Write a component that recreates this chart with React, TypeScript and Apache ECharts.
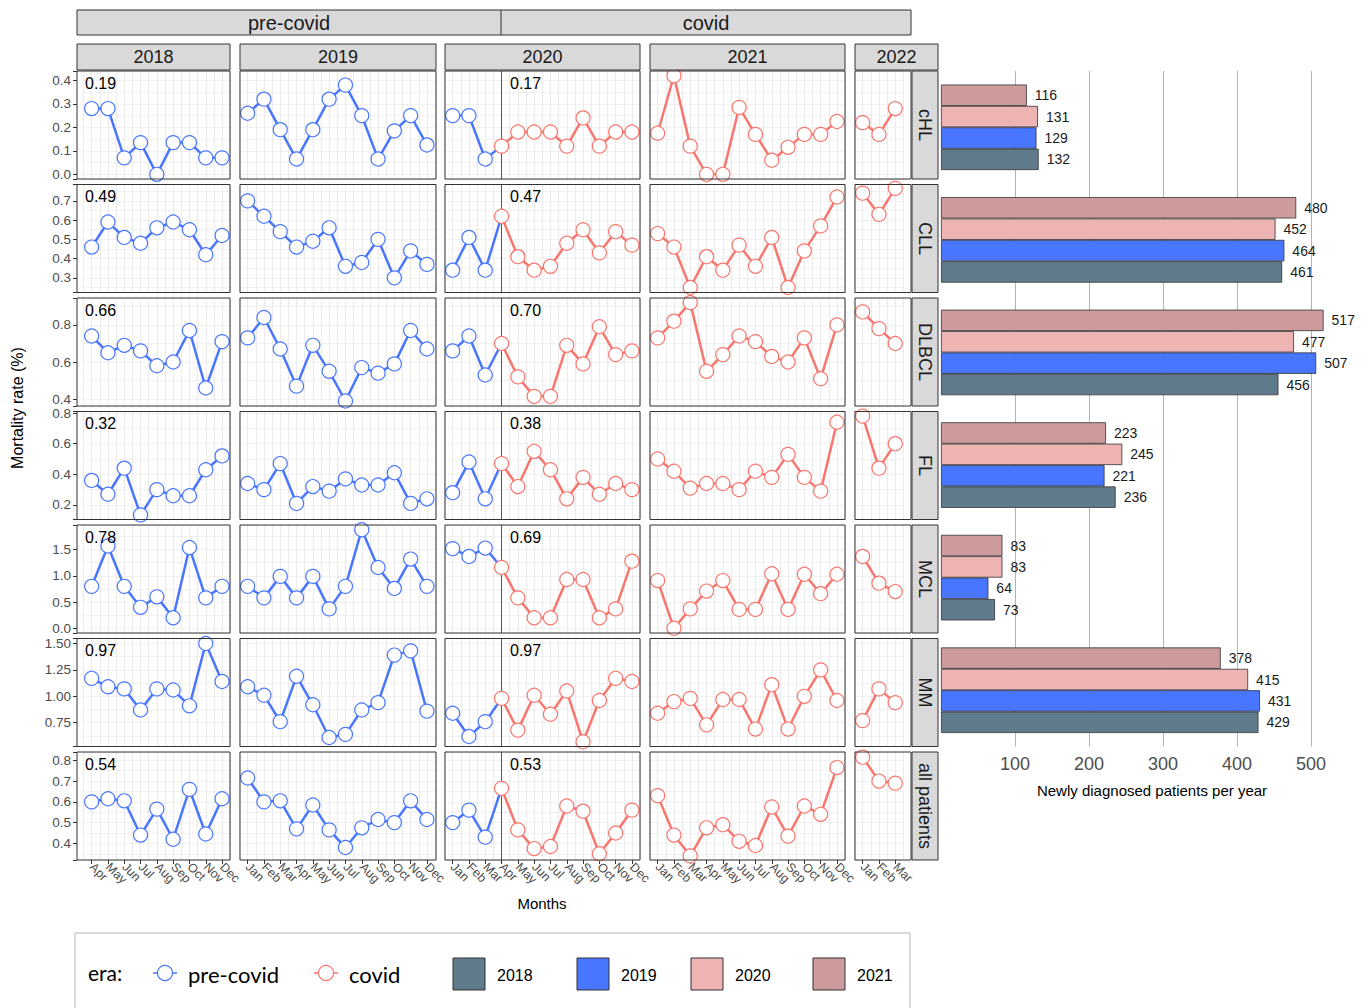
import React, { useEffect, useRef } from 'react';
import * as echarts from 'echarts';

// ---------- categories / tick labels ----------
const monthsFull = ['Jan', 'Feb', 'Mar', 'Apr', 'May', 'Jun', 'Jul', 'Aug', 'Sep', 'Oct', 'Nov', 'Dec'];
const months2018 = ['Apr', 'May', 'Jun', 'Jul', 'Aug', 'Sep', 'Oct', 'Nov', 'Dec'];
const months2022 = ['Jan', 'Feb', 'Mar'];
const yearLabels = ['2018', '2019', '2020', '2021', '2022'];
const diseases = ['cHL', 'CLL', 'DLBCL', 'FL', 'MCL', 'MM', 'all patients'];
const eraLabels = ['pre-covid', 'covid'];

// ---------- mortality rate (%) per month ----------
const cHL2018 = [0.28, 0.28, 0.07, 0.135, 0.0, 0.135, 0.135, 0.07, 0.07];
const cHL2019 = [0.26, 0.32, 0.19, 0.065, 0.19, 0.32, 0.38, 0.25, 0.065, 0.185, 0.25, 0.125];
const cHL2020 = [0.25, 0.25, 0.065, 0.12, 0.18, 0.18, 0.18, 0.12, 0.24, 0.12, 0.18, 0.18];
const cHL2021 = [0.175, 0.42, 0.12, 0.0, 0.0, 0.285, 0.17, 0.06, 0.115, 0.17, 0.17, 0.225];
const cHL2022 = [0.22, 0.17, 0.28];

const CLL2018 = [0.46, 0.59, 0.51, 0.48, 0.56, 0.59, 0.55, 0.42, 0.52];
const CLL2019 = [0.70, 0.62, 0.54, 0.46, 0.49, 0.56, 0.36, 0.38, 0.50, 0.30, 0.44, 0.37];
const CLL2020 = [0.34, 0.51, 0.34, 0.62, 0.41, 0.34, 0.36, 0.48, 0.55, 0.43, 0.54, 0.47];
const CLL2021 = [0.53, 0.46, 0.25, 0.41, 0.34, 0.47, 0.36, 0.51, 0.25, 0.44, 0.57, 0.72];
const CLL2022 = [0.74, 0.63, 0.765];

const DLBCL2018 = [0.74, 0.65, 0.69, 0.66, 0.58, 0.60, 0.77, 0.46, 0.71];
const DLBCL2019 = [0.73, 0.84, 0.67, 0.47, 0.69, 0.55, 0.39, 0.57, 0.54, 0.59, 0.77, 0.67];
const DLBCL2020 = [0.66, 0.74, 0.53, 0.70, 0.52, 0.415, 0.415, 0.69, 0.59, 0.79, 0.64, 0.66];
const DLBCL2021 = [0.73, 0.82, 0.92, 0.55, 0.64, 0.74, 0.71, 0.63, 0.60, 0.73, 0.51, 0.80];
const DLBCL2022 = [0.87, 0.78, 0.70];

const FL2018 = [0.36, 0.27, 0.44, 0.135, 0.30, 0.26, 0.26, 0.43, 0.52];
const FL2019 = [0.34, 0.30, 0.47, 0.21, 0.32, 0.29, 0.37, 0.33, 0.33, 0.41, 0.21, 0.24];
const FL2020 = [0.28, 0.48, 0.24, 0.47, 0.32, 0.55, 0.43, 0.24, 0.38, 0.27, 0.34, 0.30];
const FL2021 = [0.50, 0.42, 0.31, 0.34, 0.34, 0.30, 0.42, 0.38, 0.53, 0.38, 0.29, 0.74];
const FL2022 = [0.78, 0.44, 0.60];

const MCL2018 = [0.80, 1.57, 0.80, 0.40, 0.60, 0.20, 1.54, 0.58, 0.80];
const MCL2019 = [0.80, 0.58, 0.99, 0.58, 0.99, 0.37, 0.80, 1.88, 1.16, 0.76, 1.32, 0.80];
const MCL2020 = [1.52, 1.37, 1.53, 1.16, 0.58, 0.20, 0.20, 0.93, 0.93, 0.20, 0.37, 1.28];
const MCL2021 = [0.91, 0.0, 0.37, 0.71, 0.91, 0.36, 0.36, 1.04, 0.36, 1.03, 0.66, 1.03];
const MCL2022 = [1.37, 0.86, 0.70];

const MM2018 = [1.17, 1.09, 1.07, 0.87, 1.07, 1.06, 0.91, 1.50, 1.14];
const MM2019 = [1.09, 1.01, 0.76, 1.19, 0.92, 0.61, 0.64, 0.87, 0.94, 1.39, 1.43, 0.86];
const MM2020 = [0.84, 0.62, 0.76, 0.98, 0.68, 1.01, 0.83, 1.05, 0.57, 0.96, 1.17, 1.14];
const MM2021 = [0.84, 0.95, 0.98, 0.73, 0.97, 0.97, 0.69, 1.11, 0.69, 1.00, 1.25, 0.96];
const MM2022 = [0.77, 1.07, 0.94];

const ALL2018 = [0.60, 0.615, 0.605, 0.44, 0.565, 0.42, 0.66, 0.445, 0.615];
const ALL2019 = [0.715, 0.60, 0.605, 0.47, 0.585, 0.465, 0.38, 0.475, 0.515, 0.50, 0.605, 0.515];
const ALL2020 = [0.50, 0.56, 0.43, 0.665, 0.465, 0.375, 0.385, 0.58, 0.555, 0.35, 0.45, 0.56];
const ALL2021 = [0.63, 0.44, 0.34, 0.475, 0.49, 0.41, 0.39, 0.575, 0.435, 0.58, 0.54, 0.765];
const ALL2022 = [0.815, 0.70, 0.69];

// mean mortality per era (annotations)
const meansPreCovid = ['0.19', '0.49', '0.66', '0.32', '0.78', '0.97', '0.54'];
const meansCovid = ['0.17', '0.47', '0.70', '0.38', '0.69', '0.97', '0.53'];

// y scale per row (free y scales)
const yMin = [-0.02, 0.224, 0.363, 0.105, -0.09, 0.525, 0.32];
const yMax = [0.44, 0.785, 0.945, 0.81, 1.97, 1.547, 0.84];
const yStep = [0.1, 0.1, 0.2, 0.2, 0.5, 0.25, 0.1];
const yDecimals = [1, 1, 1, 1, 1, 2, 1];

// ---------- newly diagnosed patients per year ----------
const barCategories = ['cHL', 'CLL', 'DLBCL', 'FL', 'MCL', 'MM'];
const patients2018 = [132, 461, 456, 236, 73, 429];
const patients2019 = [129, 464, 507, 221, 64, 431];
const patients2020 = [131, 452, 477, 245, 83, 415];
const patients2021 = [116, 480, 517, 223, 83, 378];
const barTicks = [100, 200, 300, 400, 500];

// ---------- styling ----------
const FONT = '"Liberation Sans", Arial, sans-serif';
const LEGEND_FONT = 'Lato, "Open Sans", sans-serif';
const BLUE = '#4876FF';
const RED = '#F8766D';
const C2018 = '#607B8B';
const C2019 = '#4876FF';
const C2020 = '#EEB4B4';
const C2021 = '#CD9B9B';
const STRIP_FILL = '#d9d9d9';
const BORDER = '#333333';

const PANEL_LEFT = [77, 240, 445, 650, 855];
const PANEL_W = [153, 196, 195, 195, 56];
const GRID_LEFT = [83.5, 239.5, 444.5, 649.5, 854.5];
const MONTH_STEP = 16.3;
const ROW_H = 108;
const rowTop = (r: number) => 71 + r * 113.5;

function buildOption() {
  const table = [
    [cHL2018, cHL2019, cHL2020, cHL2021, cHL2022],
    [CLL2018, CLL2019, CLL2020, CLL2021, CLL2022],
    [DLBCL2018, DLBCL2019, DLBCL2020, DLBCL2021, DLBCL2022],
    [FL2018, FL2019, FL2020, FL2021, FL2022],
    [MCL2018, MCL2019, MCL2020, MCL2021, MCL2022],
    [MM2018, MM2019, MM2020, MM2021, MM2022],
    [ALL2018, ALL2019, ALL2020, ALL2021, ALL2022],
  ];
  const monthsByCol = [months2018, monthsFull, monthsFull, monthsFull, months2022];

  const grid: any[] = [];
  const xAxis: any[] = [];
  const yAxis: any[] = [];
  const series: any[] = [];
  const graphic: any[] = [];

  const lineSeries = (xi: number, yi: number, color: string, d: any[], extra: any = {}) => ({
    type: 'line',
    xAxisIndex: xi,
    yAxisIndex: yi,
    data: d,
    symbol: 'circle',
    symbolSize: 14,
    showSymbol: true,
    showAllSymbol: true,
    connectNulls: false,
    silent: true,
    z: 3,
    lineStyle: { color, width: 2.5 },
    itemStyle: { color: '#ffffff', borderColor: color, borderWidth: 1.2 },
    ...extra,
  });

  for (let r = 0; r < diseases.length; r++) {
    const iv = yStep[r];
    const dec = yDecimals[r];
    const fmt = (v: number) => {
      const k = v / iv;
      return Math.abs(k - Math.round(k)) < 1e-6 ? v.toFixed(dec) : '';
    };
    const top = rowTop(r);

    // y-axis labels & ticks, on a grid spanning the full 2018 panel
    const lgi = grid.length;
    grid.push({ left: PANEL_LEFT[0], top, width: PANEL_W[0], height: ROW_H });
    xAxis.push({ type: 'value', gridIndex: lgi, min: 0, max: 1, show: false });
    yAxis.push({
      type: 'value',
      gridIndex: lgi,
      min: yMin[r],
      max: yMax[r],
      minInterval: iv,
      maxInterval: iv,
      position: 'left',
      axisLine: { show: false },
      axisTick: { show: true, length: 4, lineStyle: { color: BORDER } },
      axisLabel: { show: true, fontSize: 13.5, color: '#4d4d4d', fontFamily: FONT, margin: 6, formatter: fmt },
      splitLine: { show: false },
    });

    for (let c = 0; c < yearLabels.length; c++) {
      const gi = grid.length;
      const months = monthsByCol[c];
      const n = months.length;
      const isBottom = r === diseases.length - 1;
      grid.push({ left: GRID_LEFT[c], top, width: n * MONTH_STEP, height: ROW_H });

      const xi = xAxis.length;
      xAxis.push({
        type: 'category',
        gridIndex: gi,
        data: months,
        boundaryGap: true,
        position: 'bottom',
        axisLine: { show: false },
        axisTick: { show: isBottom, alignWithLabel: true, length: 4, lineStyle: { color: BORDER } },
        axisLabel: {
          show: isBottom, rotate: -45, interval: 0, fontSize: 12.5, color: '#4d4d4d',
          fontFamily: FONT, margin: 5,
        },
        splitLine: { show: false },
      });
      xAxis.push({
        type: 'value',
        gridIndex: gi,
        min: -0.5,
        max: n - 0.5,
        interval: 0.5,
        position: 'top',
        axisLine: { show: false },
        axisTick: { show: false },
        axisLabel: { show: false },
        splitLine: { show: true, lineStyle: { color: '#ebebeb', width: 1 } },
      });

      const yi = yAxis.length;
      yAxis.push({
        type: 'value',
        gridIndex: gi,
        min: yMin[r],
        max: yMax[r],
        minInterval: iv,
        maxInterval: iv,
        position: 'left',
        axisLine: { show: false },
        axisTick: { show: false },
        axisLabel: { show: false },
        splitLine: { show: true, lineStyle: { color: '#e4e4e4', width: 1 } },
      });
      yAxis.push({
        type: 'value',
        gridIndex: gi,
        min: yMin[r],
        max: yMax[r],
        minInterval: iv / 2,
        maxInterval: iv / 2,
        position: 'right',
        axisLine: { show: false },
        axisTick: { show: false },
        axisLabel: { show: false },
        splitLine: { show: true, lineStyle: { color: '#f1f1f1', width: 1 } },
      });

      const vals = table[r][c];
      if (c <= 1) {
        series.push(lineSeries(xi, yi, BLUE, vals.slice()));
      } else if (c === 2) {
        const pre = vals.map((v, i) => (i < 3 ? v : i === 3 ? { value: v, symbol: 'none' } : '-'));
        const cov = vals.map((v, i) => (i < 3 ? '-' : v));
        series.push(lineSeries(xi, yi, BLUE, pre));
        series.push(
          lineSeries(xi, yi, RED, cov, {
            markLine: {
              silent: true,
              symbol: 'none',
              z: 2,
              label: { show: false },
              lineStyle: { color: '#555555', width: 1, type: 'solid' },
              data: [{ xAxis: 'Apr' }],
            },
          })
        );
      } else {
        series.push(lineSeries(xi, yi, RED, vals.slice()));
      }

      // panel border
      graphic.push({
        type: 'rect', z: 100, silent: true,
        shape: { x: PANEL_LEFT[c], y: top, width: PANEL_W[c], height: ROW_H },
        style: { fill: 'none', stroke: BORDER, lineWidth: 1 },
      });
    }

    // era mean annotations
    graphic.push({
      type: 'text', z: 101, silent: true, x: PANEL_LEFT[0] + 8, y: top + 12,
      style: { text: meansPreCovid[r], fontSize: 16, fontFamily: FONT, fill: '#000', align: 'left', verticalAlign: 'middle' },
    });
    graphic.push({
      type: 'text', z: 101, silent: true, x: PANEL_LEFT[2] + 65, y: top + 12,
      style: { text: meansCovid[r], fontSize: 16, fontFamily: FONT, fill: '#000', align: 'left', verticalAlign: 'middle' },
    });

    // row strip
    graphic.push({
      type: 'rect', z: 100, silent: true,
      shape: { x: 912, y: top, width: 26, height: ROW_H },
      style: { fill: STRIP_FILL, stroke: BORDER, lineWidth: 1 },
    });
    graphic.push({
      type: 'text', z: 101, silent: true, x: 925, y: top + ROW_H / 2, rotation: -Math.PI / 2,
      style: { text: diseases[r], fontSize: 18, fontFamily: FONT, fill: '#1a1a1a', align: 'center', verticalAlign: 'middle' },
    });
  }

  // year strips
  for (let c = 0; c < yearLabels.length; c++) {
    const w = c === 4 ? 83 : PANEL_W[c];
    graphic.push({
      type: 'rect', z: 100, silent: true,
      shape: { x: PANEL_LEFT[c], y: 44, width: w, height: 26 },
      style: { fill: STRIP_FILL, stroke: BORDER, lineWidth: 1 },
    });
    graphic.push({
      type: 'text', z: 101, silent: true, x: PANEL_LEFT[c] + w / 2, y: 57,
      style: { text: yearLabels[c], fontSize: 18, fontFamily: FONT, fill: '#1a1a1a', align: 'center', verticalAlign: 'middle' },
    });
  }
  // era strip
  graphic.push({
    type: 'rect', z: 100, silent: true,
    shape: { x: 77, y: 10, width: 834, height: 25 },
    style: { fill: STRIP_FILL, stroke: BORDER, lineWidth: 1 },
  });
  graphic.push({
    type: 'line', z: 101, silent: true,
    shape: { x1: 501, y1: 10, x2: 501, y2: 35 },
    style: { stroke: BORDER, lineWidth: 1 },
  });
  graphic.push({
    type: 'text', z: 101, silent: true, x: 289, y: 22.5,
    style: { text: eraLabels[0], fontSize: 20, fontFamily: FONT, fill: '#1a1a1a', align: 'center', verticalAlign: 'middle' },
  });
  graphic.push({
    type: 'text', z: 101, silent: true, x: 706, y: 22.5,
    style: { text: eraLabels[1], fontSize: 20, fontFamily: FONT, fill: '#1a1a1a', align: 'center', verticalAlign: 'middle' },
  });

  // axis titles
  graphic.push({
    type: 'text', z: 101, silent: true, x: 542, y: 903,
    style: { text: 'Months', fontSize: 15, fontFamily: FONT, fill: '#000', align: 'center', verticalAlign: 'middle' },
  });
  graphic.push({
    type: 'text', z: 101, silent: true, x: 17, y: 408, rotation: Math.PI / 2,
    style: { text: 'Mortality rate (%)', fontSize: 16, fontFamily: FONT, fill: '#000', align: 'center', verticalAlign: 'middle' },
  });
  graphic.push({
    type: 'text', z: 101, silent: true, x: 1152, y: 790,
    style: { text: 'Newly diagnosed patients per year', fontSize: 15, fontFamily: FONT, fill: '#000', align: 'center', verticalAlign: 'middle' },
  });

  // ---------- bar panel ----------
  const bgi = grid.length;
  const barTop = rowTop(0);
  const barBottom = rowTop(5) + ROW_H;
  grid.push({ left: 941, top: barTop, width: 414.4, height: barBottom - barTop });
  const bxi = xAxis.length;
  xAxis.push({
    type: 'value', gridIndex: bgi, min: 0, max: 560, interval: 100, position: 'bottom',
    axisLine: { show: false }, axisTick: { show: false },
    axisLabel: {
      fontSize: 18, color: '#4d4d4d', fontFamily: FONT, margin: 8,
      formatter: (v: number) => (barTicks.indexOf(v) >= 0 ? String(v) : ''),
    },
    splitLine: { show: false },
  });
  const byi = yAxis.length;
  yAxis.push({
    type: 'category', gridIndex: bgi, data: barCategories, inverse: true,
    axisLine: { show: false }, axisTick: { show: false }, axisLabel: { show: false }, splitLine: { show: false },
  });
  const barSeries = (name: string, color: string, d: number[], extra: any = {}) => ({
    type: 'bar', name, xAxisIndex: bxi, yAxisIndex: byi, data: d,
    barGap: '0%', barCategoryGap: '24%', silent: true,
    itemStyle: { color, borderColor: BORDER, borderWidth: 0.8 },
    label: { show: true, position: 'right', distance: 8, fontSize: 14, color: '#1a1a1a', fontFamily: FONT },
    ...extra,
  });
  series.push(barSeries('2021', C2021, patients2021, {
    markLine: {
      silent: true, symbol: 'none', z: 1,
      label: { show: false },
      lineStyle: { color: '#b3b3b3', width: 1, type: 'solid' },
      data: barTicks.map((v) => ({ xAxis: v })),
    },
  }));
  series.push(barSeries('2020', C2020, patients2020));
  series.push(barSeries('2019', C2019, patients2019));
  series.push(barSeries('2018', C2018, patients2018));

  // ---------- legend ----------
  graphic.push({
    type: 'rect', z: 100, silent: true,
    shape: { x: 75, y: 933, width: 835, height: 90 },
    style: { fill: '#fff', stroke: '#b3b3b3', lineWidth: 1 },
  });
  graphic.push({
    type: 'text', z: 101, silent: true, x: 88, y: 972,
    style: { text: 'era:', fontSize: 21, fontFamily: LEGEND_FONT, fill: '#000', align: 'left', verticalAlign: 'middle' },
  });
  const eraGlyph = (cx: number, color: string, label: string) => {
    graphic.push({
      type: 'line', z: 101, silent: true,
      shape: { x1: cx - 12, y1: 973, x2: cx + 12, y2: 973 },
      style: { stroke: color, lineWidth: 1.5 },
    });
    graphic.push({
      type: 'circle', z: 102, silent: true,
      shape: { cx, cy: 973, r: 7.5 },
      style: { fill: '#fff', stroke: color, lineWidth: 1.2 },
    });
    graphic.push({
      type: 'text', z: 101, silent: true, x: cx + 23, y: 974,
      style: { text: label, fontSize: 22, fontFamily: LEGEND_FONT, fill: '#000', align: 'left', verticalAlign: 'middle' },
    });
  };
  eraGlyph(165, BLUE, eraLabels[0]);
  eraGlyph(326, RED, eraLabels[1]);
  const yearKeys = [
    { x: 453, color: C2018, label: '2018' },
    { x: 577, color: C2019, label: '2019' },
    { x: 691, color: C2020, label: '2020' },
    { x: 813, color: C2021, label: '2021' },
  ];
  yearKeys.forEach((k) => {
    graphic.push({
      type: 'rect', z: 101, silent: true,
      shape: { x: k.x, y: 958, width: 32, height: 32 },
      style: { fill: k.color, stroke: BORDER, lineWidth: 1 },
    });
    graphic.push({
      type: 'text', z: 101, silent: true, x: k.x + 44, y: 975,
      style: { text: k.label, fontSize: 16, fontFamily: FONT, fill: '#000', align: 'left', verticalAlign: 'middle' },
    });
  });

  return {
    animation: false,
    backgroundColor: '#ffffff',
    grid,
    xAxis,
    yAxis,
    series,
    graphic,
  };
}

export default function App() {
  const ref = useRef<HTMLDivElement>(null);
  useEffect(() => {
    if (!ref.current) return;
    const chart = echarts.init(ref.current, null, { renderer: 'svg' });
    chart.setOption(buildOption() as any);
    return () => {
      chart.dispose();
    };
  }, []);
  return (
    <div
      ref={ref}
      style={{ position: 'fixed', left: 0, top: 0, width: 1368, height: 1008, background: '#fff' }}
    />
  );
}
